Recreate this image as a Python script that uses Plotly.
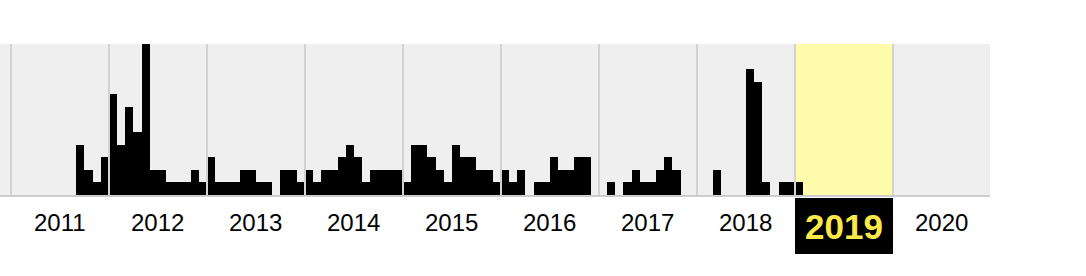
import plotly.graph_objects as go

years = [2011, 2012, 2013, 2014, 2015, 2016, 2017, 2018, 2019, 2020]
highlight_year = 2019
monthly_counts = {
    2011: [0, 0, 0, 0, 0, 0, 0, 0, 4, 2, 1, 3],
    2012: [8, 4, 7, 5, 12, 2, 2, 1, 1, 1, 2, 1],
    2013: [3, 1, 1, 1, 2, 2, 1, 1, 0, 2, 2, 1],
    2014: [2, 1, 2, 2, 3, 4, 3, 1, 2, 2, 2, 2],
    2015: [1, 4, 4, 3, 2, 1, 4, 3, 3, 2, 2, 1],
    2016: [2, 1, 2, 0, 1, 1, 3, 2, 2, 3, 3, 0],
    2017: [0, 1, 0, 1, 2, 1, 1, 2, 3, 2, 0, 0],
    2018: [0, 0, 2, 0, 0, 0, 10, 9, 1, 0, 1, 1],
    2019: [1, 0, 0, 0, 0, 0, 0, 0, 0, 0, 0, 0],
    2020: [0, 0, 0, 0, 0, 0, 0, 0, 0, 0, 0, 0],
}

xs, ys = [], []
for y in years:
    for m, v in enumerate(monthly_counts[y]):
        if v > 0:
            xs.append(y + (m + 0.5) / 12)
            ys.append(v)

fig = go.Figure()
fig.add_trace(go.Bar(x=xs, y=ys, width=1 / 12, marker=dict(color="#000000", line=dict(width=0)),
                     hoverinfo="skip"))

shapes = []
# highlighted year column
shapes.append(dict(type="rect", xref="x", yref="paper", x0=highlight_year, x1=highlight_year + 1,
                   y0=0, y1=1, fillcolor="#fffcab", line=dict(width=0), layer="below"))
# year separators
for y in years:
    shapes.append(dict(type="line", xref="x", yref="paper", x0=y, x1=y, y0=0, y1=1,
                       line=dict(color="#d2d2d2", width=2), layer="above"))

annotations = []
for y in years:
    if y == highlight_year:
        annotations.append(dict(x=y + 0.5, xref="x", y=0, yref="paper", yanchor="top", xanchor="center",
                                yshift=-3, text="<b>%d</b>" % y, showarrow=False,
                                font=dict(family="Arial, Liberation Sans", size=35, color="#fbe94a"),
                                bgcolor="#000000", width=98, height=56, borderpad=0, borderwidth=0))
    else:
        annotations.append(dict(x=y + 0.5, xref="x", y=0, yref="paper", yanchor="top", xanchor="center",
                                yshift=-12, text=str(y), showarrow=False,
                                font=dict(family="Arial, Liberation Sans", size=24, color="#000000")))

fig.update_layout(
    width=1086, height=276,
    margin=dict(l=0, r=96, t=44, b=81),
    paper_bgcolor="#ffffff", plot_bgcolor="#efefef",
    bargap=0, showlegend=False,
    shapes=shapes, annotations=annotations,
    xaxis=dict(range=[2010.888, 2020.99], showgrid=False, zeroline=False, showticklabels=False,
               ticks="", showline=True, linecolor="#cccccc", linewidth=2, fixedrange=True),
    yaxis=dict(range=[0, 12], showgrid=False, zeroline=False, showticklabels=False, ticks="",
               showline=False, fixedrange=True),
)

fig.write_html("out.html", config={"displayModeBar": False})
